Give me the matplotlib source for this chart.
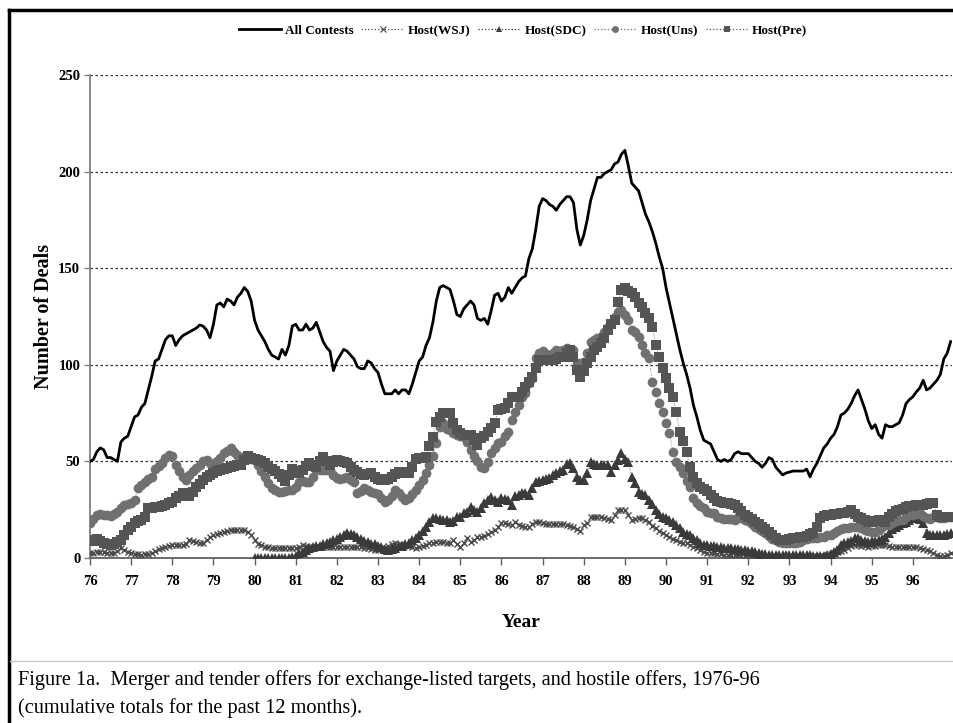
import numpy as np
import matplotlib
matplotlib.use("Agg")
import matplotlib.pyplot as plt
from matplotlib.lines import Line2D

# ---------------- data (monthly, Jan 1976 - Dec 1996) ----------------
start_year = 76
all_contests = [
    50, 51, 55, 57, 56, 52, 52, 51, 50, 60, 62, 63,
    68, 73, 74, 78, 80, 87, 94, 102, 103, 108, 113, 115,
    115, 110, 113, 115, 116, 117, 118, 119, 120.6, 120, 118, 114,
    121, 131, 132, 130, 134, 133, 131, 135, 137, 140, 138, 133,
    123, 118, 115, 112, 108, 105, 104, 103, 108, 105, 110, 120,
    121, 118, 118, 121, 118, 119, 122, 117, 112, 109, 107, 97,
    102, 105, 108, 107, 105, 103, 99, 98, 98, 102, 101, 98,
    96, 90, 85, 85, 85, 87, 85, 87, 87, 85, 90, 96,
    102, 104, 110, 114, 122, 133, 140, 141, 140, 139, 133, 126,
    125, 129, 131, 133, 131, 124, 123, 124, 121, 128, 136, 137,
    133, 135, 140, 137, 140, 143, 145, 146, 155, 160, 170, 182,
    186, 185, 183, 182, 180, 183, 185, 187, 187, 184, 170, 162,
    167, 175, 185, 191, 197, 197, 199, 200, 201, 204, 205, 209,
    211, 203, 194, 192, 190, 184, 178, 174, 169, 163, 156, 150,
    140, 132, 124, 116, 108, 101, 95, 88, 79, 73, 66, 61,
    60, 59, 55, 51, 50, 51, 50, 51, 54, 55, 54, 54,
    54, 52, 50, 49, 47, 49, 52, 51, 47, 45, 43, 44,
    44.5, 45, 45, 45, 45, 46, 42, 46, 49, 53, 57, 59,
    62, 64, 68, 74, 75, 77, 80, 84, 87, 82, 77, 71,
    67, 69, 64, 62, 69, 68, 68, 69, 70, 74, 80, 82,
    83.5, 86, 88, 92, 87, 88, 90, 92, 95, 103, 106, 112,
]
host_wsj = [
    2.4, 2.4, 3, 3.3, 3, 2.8, 2.4, 2.4, 3.5, 5, 4, 3,
    2.4, 2.2, 2, 1.6, 2, 2.2, 2.4, 3.5, 4.5, 5, 5.5, 6.2,
    6.7, 6.7, 6.7, 6.7, 7.5, 9.3, 8.8, 8.4, 8, 7.6, 9.5, 11,
    11.9, 12.5, 13, 13.6, 14, 14.5, 14.5, 14.5, 14.5, 14.5, 13.5, 12,
    9.5, 7.5, 6.5, 5.8, 5.5, 5.2, 5, 5, 5, 5, 5, 5,
    5, 5.5, 6.7, 6, 5.8, 5.8, 5.8, 5.8, 5.8, 5.8, 5.8, 5.8,
    5.8, 5.8, 5.8, 5.8, 5.8, 5.8, 5.8, 5.5, 5, 5, 4.5, 4.1,
    4.1, 4.5, 5, 6, 7, 7.6, 7.2, 6.7, 6.5, 6, 5.5, 5,
    5.8, 6.2, 6.7, 7.6, 8, 8.4, 8.4, 8.4, 8, 7.6, 9.3, 7.5,
    5.8, 8, 10.2, 8.4, 9.5, 11, 11, 11.5, 12.5, 13.5, 14.5, 16,
    18, 18, 17.5, 17.1, 18.5, 17, 16.5, 16.2, 16.2, 17.5, 18.8, 18.5,
    18, 17.5, 17.5, 17.5, 17.5, 17.5, 17.5, 17, 16.5, 16, 15, 14,
    17, 18, 21.4, 21.4, 21.4, 21, 20.5, 20, 19.7, 22, 24.8, 24.8,
    24.8, 22, 19.7, 20, 20.5, 20.5, 19.5, 18.8, 16.5, 15.4, 14, 12.8,
    12, 11, 10, 9.3, 8.5, 8, 7.6, 6.5, 5.5, 5, 4, 3,
    2.4, 2.4, 2.4, 2.2, 2, 1.8, 1.6, 1.6, 1.6, 1.5, 1.2, 1,
    0.8, 0.5, 0.3, 0, 0, 0, 0, 0, 0, 0, 0, 0,
    0, 0, 0, 0, 0, 0, 0.3, 0.5, 0.8, 0.8, 1, 1.5,
    2, 2.5, 3, 3.5, 4.1, 5, 6, 6.7, 6.5, 6.2, 6, 5.8,
    6, 6.2, 6.5, 6.7, 6.5, 6, 5.8, 5.8, 5.8, 5.8, 5.8, 5.8,
    5.8, 5.5, 5, 4.5, 4.1, 3.5, 2.5, 1.6, 1.2, 0.8, 1.5, 2.4,
]
nan = float("nan")
host_sdc = [nan] * 48 + [
    0, 0, 0, 0, 0, 0, 0, 0, 0, 0, 0, 0.3,
    1, 2.4, 3, 4, 5, 5.5, 6, 6.3, 7, 8, 8.5, 9.3,
    10, 11, 12, 12.8, 12.5, 12, 11, 10, 9, 8.4, 7.5, 7,
    6.3, 5.5, 4.5, 4.1, 4.5, 5, 6, 6.3, 7, 8, 9.3, 10.5,
    11.9, 14, 16, 18.8, 20.5, 20.5, 20, 19.7, 19.5, 18.8, 19, 21,
    21.4, 23.1, 24, 26.6, 25, 24, 26, 28.3, 30, 31.7, 30, 29,
    30.9, 30.5, 30, 27.4, 32, 32.6, 33.5, 33.5, 32.6, 36, 39.5, 40,
    40.4, 40.8, 41.2, 43, 43.8, 45, 45.5, 48.5, 49, 46.4, 42, 40.4,
    40.5, 43.8, 49.8, 48.5, 48, 48, 48, 48, 44.7, 48, 50.7, 54.2,
    51, 49.8, 42, 38.7, 34.3, 33, 32.6, 30, 28, 24.8, 23, 21.4,
    20.5, 19.5, 18.8, 17, 15.4, 13.5, 12.5, 11.9, 10.5, 9.3, 8, 6.7,
    6.5, 6.2, 6, 5.8, 5.5, 5.3, 5.1, 5, 4.8, 4.5, 4.3, 4.1,
    3.8, 3.5, 3, 2.5, 2.2, 2, 1.8, 1.6, 1.5, 1.5, 1.5, 1.5,
    1.5, 1.5, 1.5, 1.6, 1.6, 1.5, 1.5, 1, 0.8, 0.8, 1, 1.5,
    2, 3, 4, 6.7, 7.6, 8.5, 9, 10.2, 10.2, 9.5, 9, 8.4,
    8.8, 9, 9.3, 10, 11, 13, 15, 16.2, 17, 18, 18.8, 19.5,
    20.5, 21.4, 20, 18, 12.8, 12, 12, 11.9, 11.9, 12, 12.5, 12.8,
]
host_uns = [
    18, 20, 22, 23, 22, 22, 21.6, 23, 24, 26, 27.4, 28,
    28.5, 30, 36, 38, 39.5, 41, 42, 46, 47.5, 49, 52, 53.3,
    53, 48, 45, 42, 40.4, 43, 44.8, 46.5, 48, 50, 50.7, 49,
    48, 50, 52, 54.2, 55.5, 56.8, 55, 53.5, 52.4, 52, 51.5, 51,
    50.7, 48, 45, 42, 39, 36, 35, 34.3, 34.3, 34.5, 35, 35.2,
    37, 39.5, 40, 39.5, 39.5, 42, 45.5, 45.5, 45.5, 45.5, 45.5, 43,
    41.2, 41, 41.5, 42, 40.5, 39.5, 33.5, 34.5, 36, 35, 34, 33.5,
    33, 31, 29, 30, 32, 35.2, 33.5, 31.5, 30, 31, 33, 35.2,
    38, 40.4, 44, 48, 53, 59.4, 68, 69.7, 67, 66, 64.5, 63.7,
    63, 62.8, 60, 56, 53, 50, 47.3, 46.4, 49.8, 54.2, 57, 59.4,
    60.2, 63, 65.4, 71.4, 75.7, 79.2, 83.5, 85.2, 90.4, 93, 103.4, 106,
    107, 105.5, 104, 106, 107.7, 107, 107.7, 108.5, 107.7, 107.7, 100.8, 101,
    101.6, 106, 112, 113, 114, 113.7, 117, 119.7, 121.5, 124.9, 127.5, 128.4,
    126, 123.2, 118, 117, 114.5, 110, 106, 103.4, 91.3, 86, 80, 75.7,
    69.7, 64.5, 55, 49.8, 47, 43.8, 40, 36.9, 31, 28.5, 27, 25.7,
    24, 23.5, 23.1, 21, 20.5, 20, 20, 20, 19.7, 21.4, 20.5, 19.5,
    19, 17.5, 16.2, 15, 14, 12.8, 11.5, 10, 9.3, 8.5, 7.6, 7.6,
    7.6, 7.6, 8, 8.5, 9.3, 9.8, 10.2, 10.2, 10.6, 11, 11, 12,
    12, 13, 14, 15, 15.4, 15.4, 16.2, 16.2, 16, 15.4, 14.5, 14,
    13.6, 13.6, 14.5, 16.2, 17, 17.1, 18, 19, 19.7, 19.7, 21, 22.4,
    22.4, 23, 23.1, 21.5, 20.5, 20, 21.4, 21, 20.5, 20.5, 21, 21.4,
]
host_pre = [
    9, 9.3, 10, 9, 8, 7, 6.7, 7.5, 8.5, 9.5, 12, 14.5,
    16, 18, 19, 19.7, 21, 25.7, 26, 26.5, 26.6, 27, 27.5, 28.3,
    29, 31, 32, 33.5, 33, 32, 34, 36.9, 38.5, 40.4, 42, 43,
    44, 45, 45.5, 46, 46.5, 47, 47.5, 48, 48.1, 50.5, 53, 52,
    51, 50.5, 50, 49, 47, 46, 45, 43.5, 42, 40, 43, 46,
    45, 44, 45.5, 47.5, 49, 48, 47.3, 50, 52.4, 50, 48, 49.5,
    50.7, 50, 49.5, 49, 47, 45.5, 44.5, 43.5, 43, 43.5, 44, 42,
    41, 40.4, 40.5, 41, 42, 43.5, 44.7, 44.5, 44, 44, 47, 51,
    51.6, 52, 52.4, 58, 62.8, 70.6, 73.1, 74.9, 74.8, 74.9, 69.7, 66,
    64.5, 63.7, 63.7, 63.7, 61, 58.5, 62, 63, 65.4, 67.5, 69.7, 76.6,
    77, 77.5, 80, 83.5, 83.5, 83.5, 86, 88.7, 91, 93.9, 98.2, 102.5,
    102.5, 102.5, 102.5, 102.5, 103, 104, 104.2, 106, 107.7, 104, 97.3, 93.9,
    97, 100.8, 104, 107.7, 109, 111.1, 114, 118, 121, 123.2, 132.7, 138.7,
    139.6, 138, 137, 135, 132, 130, 127, 124, 119.7, 110.2, 104, 98.2,
    93, 88, 83.5, 75.7, 65.4, 60.5, 55, 47, 42, 38.7, 37, 35.5,
    34.5, 32.6, 31, 29.5, 29, 28.6, 28.3, 28, 27.6, 26, 24.5, 22.5,
    21, 20, 18.8, 17.5, 16.2, 15.2, 13.5, 12, 10.5, 9.5, 9.3, 9.5,
    10, 10.2, 10.5, 10.8, 11, 11.5, 12.5, 13, 16, 20.5, 21.5, 22.4,
    22.5, 22.7, 23, 23.1, 23.5, 24, 24.8, 23, 21.4, 20.5, 19.5, 18.8,
    18.8, 19.2, 19.7, 19, 18.5, 21, 23, 24.5, 24.8, 25.5, 26.5, 27,
    27, 27.2, 27.4, 27.6, 28, 28.3, 28.3, 22, 21.4, 21.4, 21.4, 21,
]
year_ticks = list(range(76, 97))
year_labels = [str(y) for y in year_ticks]
y_ticks = [0, 50, 100, 150, 200, 250]
series_names = ["All Contests", "Host(WSJ)", "Host(SDC)", "Host(Uns)", "Host(Pre)"]
caption_lines = [
    "Figure 1a.  Merger and tender offers for exchange-listed targets, and hostile offers, 1976-96",
    "(cumulative totals for the past 12 months).",
]

# ---------------- figure ----------------
W, H = 954, 723
fig = plt.figure(figsize=(W / 100, H / 100), dpi=100)
serif = ["Liberation Serif", "DejaVu Serif"]

n = len(all_contests)
x = start_year + np.arange(n) / 12.0

ax = fig.add_axes([90 / W, 1 - 558 / H, (952 - 90) / W, (558 - 75) / H])

# series (Excel order)
ax.plot(x, all_contests, color="black", lw=2.0, zorder=3)
ax.plot(x, host_wsj, color="#4a4a4a", lw=0.6, ls=":", marker="x", ms=5, mew=1.0, zorder=4)
ax.plot(x, host_sdc, color="#3a3a3a", lw=0.6, ls=":", marker="^", ms=7, mew=0, zorder=5)
ax.plot(x, host_uns, color="#707070", lw=0.6, ls=":", marker="o", ms=7, mew=0, zorder=6)
ax.plot(x, host_pre, color="#555555", lw=0.6, ls=":", marker="s", ms=6.5, mew=0, zorder=7)

ax.set_xlim(76, 96.95)
ax.set_ylim(0, 250)
ax.set_yticks(y_ticks)
ax.set_xticks(year_ticks)
ax.set_xticklabels(year_labels)
for v in y_ticks[1:]:
    ax.axhline(v, color="#333333", lw=0.9, ls=(0, (2, 2)), zorder=1)

for s in ["top", "right"]:
    ax.spines[s].set_visible(False)
ax.spines["left"].set_color("#808080")
ax.spines["left"].set_linewidth(1.3)
ax.spines["bottom"].set_color("#606060")
ax.spines["bottom"].set_linewidth(1.3)
ax.tick_params(axis="x", direction="out", length=5, width=1, color="#606060", pad=7)
ax.tick_params(axis="y", direction="out", length=4, width=1, color="#808080", pad=3)
for lab in ax.get_xticklabels() + ax.get_yticklabels():
    lab.set_fontfamily(serif)
    lab.set_fontweight("bold")
    lab.set_fontsize(10.5)

ax.set_xlabel("Year", fontfamily=serif, fontweight="bold", fontsize=14, labelpad=19)
ax.set_ylabel("Number of Deals", fontfamily=serif, fontweight="bold", fontsize=14.5, labelpad=3)

# legend
handles = [
    Line2D([], [], color="black", lw=2.0),
    Line2D([], [], color="#4a4a4a", lw=0.9, ls=":", marker="x", ms=4, mew=0.8),
    Line2D([], [], color="#3a3a3a", lw=0.9, ls=":", marker="^", ms=5, mew=0),
    Line2D([], [], color="#707070", lw=0.9, ls=":", marker="o", ms=5, mew=0),
    Line2D([], [], color="#555555", lw=0.9, ls=":", marker="s", ms=5, mew=0),
]
fig.legend(handles, series_names, loc="center", bbox_to_anchor=(523 / W, 1 - 31 / H),
           ncol=5, frameon=False, handlelength=3.2, handletextpad=0.3,
           columnspacing=0.6, prop={"family": serif, "weight": "bold", "size": 9.5})

# frame lines (left and top), caption separator
fig.add_artist(Line2D([9 / W, 9 / W], [0, 1 - 10 / H], transform=fig.transFigure, color="black", lw=2.5))
fig.add_artist(Line2D([9 / W, 1], [1 - 10 / H, 1 - 10 / H], transform=fig.transFigure, color="black", lw=2.5))
fig.add_artist(Line2D([10 / W, 1], [1 - 661 / H, 1 - 661 / H], transform=fig.transFigure, color="#c8c8c8", lw=1.0))

fig.text(18 / W, 1 - 680 / H, caption_lines[0], ha="left", va="center", fontfamily=serif, fontsize=14.6)
fig.text(18 / W, 1 - 708 / H, caption_lines[1], ha="left", va="center", fontfamily=serif, fontsize=14.6)

fig.savefig("out.png", dpi=100)
